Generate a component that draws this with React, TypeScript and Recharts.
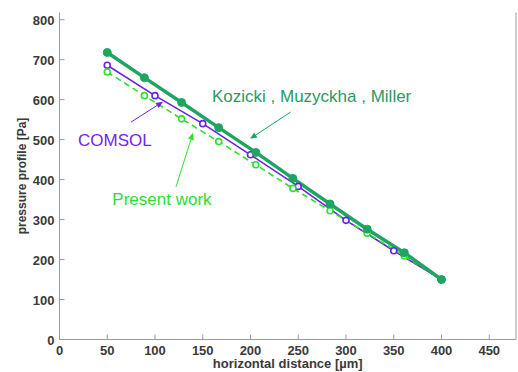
import {
  LineChart, Line, XAxis, YAxis, ReferenceLine, ReferenceDot
} from 'recharts';

// x positions of the Kozicki / present work points [µm]
const xsEven = [50, 88.9, 127.8, 166.7, 205.6, 244.4, 283.3, 322.2, 361.1, 400];
const kozicki = [718, 655, 593, 530, 468, 403, 339, 276, 217, 150];
const present = [669, 610, 552, 495, 437, 378, 322, 266, 209, 150];

// COMSOL points every 50 µm
const xsComsol = [50, 100, 150, 200, 250, 300, 350, 400];
const comsol = [686, 610, 540, 462, 383, 298, 222, 150];

const xTicks = [0, 50, 100, 150, 200, 250, 300, 350, 400, 450];
const yTicks = [0, 100, 200, 300, 400, 500, 600, 700, 800];

const kozickiData = xsEven.map((x, i) => ({ x, kozicki: kozicki[i] }));
const presentData = xsEven.map((x, i) => ({ x, present: present[i] }));
const comsolData = xsComsol.map((x, i) => ({ x, comsol: comsol[i] }));

const C_KOZ = '#1ea562';
const C_COM = '#6a22e4';
const C_PRE = '#2ee02e';
const C_AXIS = '#9a9a9a';
const FONT = '"Liberation Sans", Arial, sans-serif';

const XTick = ({ x, y, payload }: any) => (
  <g>
    <line x1={x} y1={y} x2={x} y2={y - 5} stroke={C_AXIS} />
    <text x={x} y={y + 15} textAnchor="middle" fontSize={13} fontWeight="bold"
      fill="#3a3a3a" fontFamily={FONT}>{payload.value}</text>
  </g>
);

const YTick = ({ x, y, payload }: any) => (
  <g>
    <line x1={x} y1={y} x2={x + 5} y2={y} stroke={C_AXIS} />
    <text x={x - 5} y={y + 5} textAnchor="end" fontSize={13} fontWeight="bold"
      fill="#3a3a3a" fontFamily={FONT}>{payload.value}</text>
  </g>
);

const TopTick = ({ x, y }: any) => (
  <line x1={x} y1={y} x2={x} y2={y + 5} stroke={C_AXIS} />
);

const RightTick = ({ x, y }: any) => (
  <line x1={x} y1={y} x2={x - 5} y2={y} stroke={C_AXIS} />
);

const arrow = (color: string) => (p: any) => {
  const { x1, y1, x2, y2 } = p;
  const a = Math.atan2(y2 - y1, x2 - x1);
  const L = 7, W = 3;
  const bx = x2 - L * Math.cos(a), by = y2 - L * Math.sin(a);
  const px = -Math.sin(a) * W, py = Math.cos(a) * W;
  return (
    <g>
      <line x1={x1} y1={y1} x2={bx} y2={by} stroke={color} strokeWidth={1} />
      <polygon points={`${x2},${y2} ${bx + px},${by + py} ${bx - px},${by - py}`} fill={color} />
    </g>
  );
};

const label = (text: string, color: string) => (p: any) => (
  <text x={p.cx} y={p.cy} textAnchor="middle" dominantBaseline="central"
    fontSize={17} fill={color} fontFamily={FONT}>{text}</text>
);

export default function App() {
  return (
    <div style={{ position: 'absolute', left: 0, top: 0, background: '#fff' }}>
      <LineChart width={518} height={372} margin={{ top: 12.5, right: 0, bottom: 0, left: 0 }}>
        <XAxis xAxisId="b" type="number" dataKey="x" domain={[0, 478]} ticks={xTicks}
          allowDataOverflow height={32.5} tickSize={0} tickMargin={0} tick={<XTick />}
          axisLine={{ stroke: C_AXIS }} tickLine={false}
          label={{ value: 'horizontal distance [µm]', position: 'insideBottom', offset: 4,
            style: { fontSize: 13, fontWeight: 'bold', fill: '#3a3a3a', fontFamily: FONT } }} />
        <XAxis xAxisId="t" orientation="top" type="number" dataKey="x" domain={[0, 478]}
          ticks={xTicks} height={0} tickSize={0} tickMargin={0} tick={<TopTick />}
          axisLine={{ stroke: C_AXIS }} tickLine={false} />
        <YAxis yAxisId="l" type="number" domain={[0, 818]} ticks={yTicks} width={59.5}
          tickSize={0} tickMargin={0} tick={<YTick />} axisLine={{ stroke: C_AXIS }} tickLine={false}
          label={{ value: 'pressure profile [Pa]', angle: -90, position: 'insideLeft', offset: 22,
            style: { textAnchor: 'middle', fontSize: 12, fontWeight: 'bold', fill: '#3a3a3a', fontFamily: FONT } }} />
        <YAxis yAxisId="r" orientation="right" type="number" domain={[0, 818]} ticks={yTicks}
          width={2} tickSize={0} tickMargin={0} tick={<RightTick />}
          axisLine={{ stroke: C_AXIS }} tickLine={false} />

        <Line xAxisId="b" yAxisId="l" data={comsolData} dataKey="comsol" stroke={C_COM}
          strokeWidth={1.6} isAnimationActive={false}
          dot={{ r: 3, fill: '#fff', stroke: C_COM, strokeWidth: 1.6 }} />
        <Line xAxisId="b" yAxisId="l" data={presentData} dataKey="present" stroke={C_PRE}
          strokeWidth={1.6} strokeDasharray="6 4" isAnimationActive={false}
          dot={{ r: 3, fill: '#fff', stroke: C_PRE, strokeWidth: 1.6, strokeDasharray: '' }} />
        <Line xAxisId="b" yAxisId="l" data={kozickiData} dataKey="kozicki" stroke={C_KOZ}
          strokeWidth={3.5} isAnimationActive={false}
          dot={{ r: 4, fill: C_KOZ, stroke: C_KOZ, strokeWidth: 1 }} />

        <ReferenceLine xAxisId="b" yAxisId="l" segment={[{ x: 242, y: 569 }, { x: 199.5, y: 502 }]}
          shape={arrow(C_KOZ)} />
        <ReferenceLine xAxisId="b" yAxisId="l" segment={[{ x: 75, y: 544 }, { x: 108.4, y: 595 }]}
          shape={arrow(C_COM)} />
        <ReferenceLine xAxisId="b" yAxisId="l" segment={[{ x: 122, y: 382 }, { x: 139.8, y: 517 }]}
          shape={arrow(C_PRE)} />

        <ReferenceDot xAxisId="b" yAxisId="l" x={264} y={607} r={0}
          shape={label('Kozicki , Muzyckha , Miller', '#2a9a66')} />
        <ReferenceDot xAxisId="b" yAxisId="l" x={58} y={499} r={0}
          shape={label('COMSOL', '#7424ee')} />
        <ReferenceDot xAxisId="b" yAxisId="l" x={107.3} y={349} r={0}
          shape={label('Present work', C_PRE)} />
      </LineChart>
    </div>
  );
}
